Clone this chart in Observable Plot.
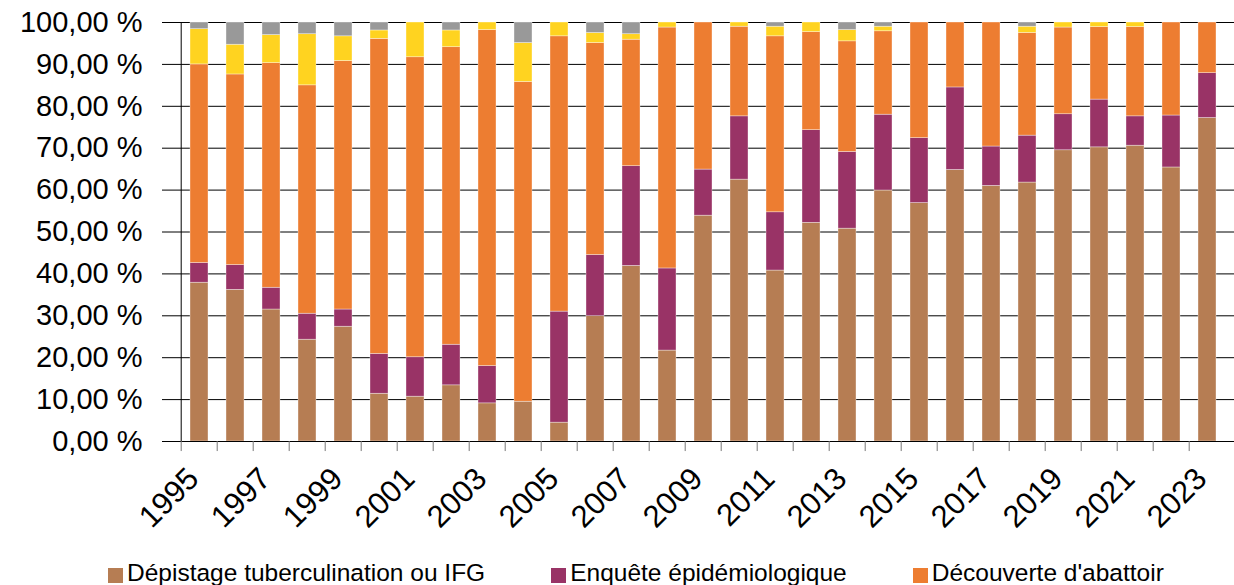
<!DOCTYPE html>
<html>
<head>
<meta charset="utf-8">
<script src="https://cdn.jsdelivr.net/npm/d3@7"></script>
<script src="https://cdn.jsdelivr.net/npm/@observablehq/plot@0.6"></script>
<style>
  html, body { margin: 0; padding: 0; background: #fff; }
  body { width: 1234px; height: 585px; overflow: hidden; position: relative; font-family: "Liberation Sans", Arial, sans-serif; }
  #legend { position: absolute; left: 108px; top: 560px; display: flex; align-items: center; font-size: 24.5px; line-height: 25px; color: #000; white-space: nowrap; }
  #legend .item { display: flex; align-items: center; margin-right: 66px; }
  #legend .sw { width: 15px; height: 15px; margin-right: 4px; position: relative; top: 3px; }
</style>
</head>
<body>
<div id="chart"></div>
<div id="legend"></div>
<script>
const years = [1995,1996,1997,1998,1999,2000,2001,2002,2003,2004,2005,2006,2007,2008,2009,2010,2011,2012,2013,2014,2015,2016,2017,2018,2019,2020,2021,2022,2023];
const seriesNames = ["Dépistage tuberculination ou IFG", "Enquête épidémiologique", "Découverte d'abattoir", "Autre", "Non renseigné"];
const legendNames = ["Dépistage tuberculination ou IFG", "Enquête épidémiologique", "Découverte d'abattoir"];
const colors = ["#b67d53", "#993366", "#ed7d31", "#ffd320", "#999999"];
const depistage = [37.9,36.2,31.5,24.3,27.4,11.4,10.7,13.4,9.1,9.5,4.5,29.9,41.9,21.7,53.9,62.5,40.8,52.2,50.8,59.9,56.9,64.8,61.0,61.8,69.5,70.2,70.6,65.4,77.2];
const enquete = [4.7,5.9,5.2,6.2,4.1,9.5,9.4,9.7,8.9,0,26.5,14.6,23.8,19.6,11.0,15.1,13.9,22.1,18.3,18.1,15.5,19.7,9.4,11.2,8.6,11.4,7.0,12.4,10.7];
const abattoir = [47.4,45.5,53.6,54.5,59.3,75.2,71.6,71.0,80.2,76.3,65.7,50.6,30.2,57.5,35.1,21.4,42.0,23.4,26.4,19.9,27.6,15.5,29.6,24.5,20.7,17.3,21.3,22.2,12.1];
const autre = [8.4,7.1,6.7,12.2,5.9,2.0,8.3,4.0,1.8,9.3,3.3,2.4,1.3,1.2,0,1.0,2.3,2.3,2.7,1.1,0,0,0,1.5,1.2,1.1,1.1,0,0];
const nonRenseigne = [1.6,5.3,3.0,2.8,3.3,1.9,0,1.9,0,4.9,0,2.5,2.8,0,0,0,1.0,0,1.8,1.0,0,0,0,1.0,0,0,0,0,0];
const yTicks = [0,10,20,30,40,50,60,70,80,90,100];
const xLabelYears = [1995,1997,1999,2001,2003,2005,2007,2009,2011,2013,2015,2017,2019,2021,2023];

const seriesValues = [depistage, enquete, abattoir, autre, nonRenseigne];
const rows = [];
years.forEach((yr, i) => {
  seriesNames.forEach((s, k) => rows.push({year: yr, series: s, value: seriesValues[k][i]}));
});

const W = 1234, ML = 172, MR = 0;
const step = (W - ML - MR) / years.length;

const chart = Plot.plot({
  width: W,
  height: 550,
  marginLeft: ML,
  marginRight: MR,
  marginTop: 22,
  marginBottom: 109,
  style: {fontFamily: "'Liberation Sans', Arial, sans-serif", color: "#000", background: "#fff", overflow: "visible"},
  x: {type: "band", domain: years, paddingInner: 0.5, paddingOuter: 0.25, axis: null},
  y: {domain: [0, 100], axis: null},
  color: {domain: seriesNames, range: colors},
  marks: [
    Plot.gridY(yTicks, {stroke: "#000", strokeOpacity: 1, strokeWidth: 1}),
    Plot.barY(rows, {x: "year", y: "value", fill: "series", order: seriesNames, stroke: "#fff", strokeWidth: 0.6, strokeOpacity: 0.6}),
    Plot.axisY({ticks: yTicks, label: null, tickSize: 10, tickPadding: 20, fontSize: 29, tickFormat: d => d.toFixed(2).replace(".", ",") + " %", stroke: "#000"}),
    Plot.ruleY([0], {stroke: "#000", strokeWidth: 1}),
    Plot.ruleX([years[0]], {stroke: "#000", strokeWidth: 1, dx: -step / 2}),
    Plot.ruleX(years, {x: d => d, y1: 0, y2: -2.4, stroke: "#777", strokeWidth: 1, dx: -step / 2}),
    Plot.axisX({ticks: xLabelYears, label: null, tickSize: 0, tickRotate: -45, tickPadding: 32, fontSize: 31, tickFormat: d => String(d), dx: -6})
  ]
});
document.getElementById("chart").appendChild(chart);

const legend = document.getElementById("legend");
legendNames.forEach((name, k) => {
  const item = document.createElement("div");
  item.className = "item";
  const sw = document.createElement("span");
  sw.className = "sw";
  sw.style.background = colors[k];
  const label = document.createElement("span");
  label.textContent = name;
  item.appendChild(sw);
  item.appendChild(label);
  legend.appendChild(item);
});
</script>
</body>
</html>
